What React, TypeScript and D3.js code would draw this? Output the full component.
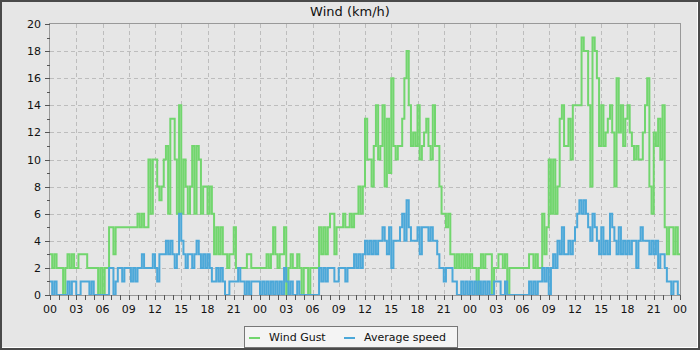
import React from 'react';
import * as d3 from 'd3';

const title = 'Wind (km/h)';
const seriesNames = ['Wind Gust', 'Average speed'];
const seriesColors = ['#72d66e', '#4ca8d9'];
const xTickLabels = ['00','03','06','09','12','15','18','21','00','03','06','09','12','15','18','21','00','03','06','09','12','15','18','21','00'];
const yTickValues = [0, 2, 4, 6, 8, 10, 12, 14, 16, 18, 20];
const stepsPerHour = 4;

// quarter-hour values, one row per hour
const gustDay1 = [
  3,2,3,2, 2,2,0,2, 3,2,3,2, 2,3,3,3, 3,2,2,2, 2,2,0,2,
  0,2,2,5, 5,3,5,5, 5,5,5,5, 5,5,5,5, 6,5,6,5, 5,10,6,10,
  10,8,7,8, 10,11,6,13, 13,10,6,14, 6,10,8,6, 8,11,6,11, 10,6,8,8,
  6,8,6,3, 5,3,5,3, 3,2,3,3, 5,2,2,2, 2,2,3,3, 2,2,2,2,
];
const gustDay2 = [
  2,2,2,3, 2,3,5,3, 2,3,3,5, 0,2,3,2, 2,3,2,0, 2,2,0,2,
  2,2,2,5, 3,5,3,5, 6,6,3,5, 5,5,6,5, 5,6,5,6, 6,8,6,8,
  13,10,10,8, 11,14,10,11, 14,8,13,9, 16,11,10,11, 11,13,16,18, 14,11,12,11,
  14,10,11,12, 13,11,10,14, 11,11,8,6, 6,5,6,3, 3,2,3,2, 3,2,3,2,
];
const gustDay3 = [
  3,2,2,0, 2,3,2,3, 3,3,0,2, 2,3,3,2, 3,0,2,2, 2,2,2,2,
  2,2,2,3, 3,2,3,2, 2,6,3,5, 10,6,10,6, 8,13,14,11, 11,13,10,14,
  14,14,14,19, 18,18,14,8, 19,18,16,11, 14,11,12,13, 14,12,8,16, 12,14,11,13,
  14,12,11,10, 11,10,10,12, 14,16,8,6, 12,11,13,10, 14,5,3,5, 5,3,5,3,
];
const avgDay1 = [
  1,0,1,0, 0,0,0,0, 1,0,1,1, 0,0,1,1, 1,1,0,1, 0,0,0,0,
  0,0,0,2, 2,0,1,2, 2,1,2,2, 2,1,2,1, 2,2,3,2, 2,2,2,3,
  2,1,3,3, 3,4,3,4, 3,2,3,6, 4,3,2,3, 3,2,3,4, 3,2,3,2,
  3,2,1,1, 2,1,2,1, 0,0,1,1, 1,1,2,1, 1,0,1,0, 1,1,1,1,
];
const avgDay2 = [
  0,1,0,1, 0,1,0,1, 0,1,0,2, 1,0,1,0, 0,1,0,0, 0,0,0,0,
  0,0,0,2, 1,2,1,2, 2,2,1,1, 2,2,2,1, 2,2,2,3, 2,3,2,3,
  4,3,4,3, 4,3,4,4, 5,4,3,5, 2,4,4,4, 5,6,4,7, 5,4,4,4,
  5,3,5,5, 5,4,5,4, 4,3,2,2, 1,2,2,2, 1,1,0,0, 1,0,1,0,
];
const avgDay3 = [
  1,0,1,0, 1,0,1,0, 1,0,0,1, 1,1,0,0, 1,0,0,0, 0,0,0,0,
  0,0,0,1, 0,1,0,1, 1,2,1,2, 0,2,3,2, 4,3,5,3, 3,4,3,4,
  5,6,7,6, 7,6,5,4, 6,5,4,3, 5,3,4,3, 6,5,4,3, 5,3,4,3,
  4,3,4,4, 2,4,5,4, 4,4,3,4, 3,4,2,3, 3,2,1,1, 0,1,1,0,
];

const gust = [...gustDay1, ...gustDay2, ...gustDay3];
const avg = [...avgDay1, ...avgDay2, ...avgDay3];

const W = 700, H = 350;
const left = 50, right = 680, top = 24, bottom = 295;
const font = 'DejaVu Sans, sans-serif';

export default function App() {
  const totalHours = 72;
  const x = d3.scaleLinear().domain([0, totalHours]).range([left, right]);
  const y = d3.scaleLinear().domain([0, 20]).range([bottom, top]);

  const toPoints = (vals: number[]) => {
    const pts = vals.map((v, i) => [i / stepsPerHour, v] as [number, number]);
    pts.push([totalHours, vals[vals.length - 1]]);
    return pts;
  };
  const line = d3.line<[number, number]>()
    .x(d => x(d[0]))
    .y(d => y(d[1]))
    .curve(d3.curveStepAfter);

  const hourTicks = d3.range(0, totalHours + 1, 1);
  const majorX = d3.range(0, totalHours + 1, 3);
  const minorY = d3.range(1, 20, 2);
  const px = (v: number) => Math.round(v) + 0.5;

  return (
    <svg width={W} height={H} style={{ position: 'absolute', left: 0, top: 0 }} fontFamily={font}>
      <rect x={0} y={0} width={W} height={H} fill="#4a4a4a" />
      <rect x={2} y={2} width={W - 4} height={H - 4} fill="#ffffff" />
      <rect x={2} y={2} width={W - 5} height={H - 5} fill="#e6e6e6" />

      <text x={350} y={16} textAnchor="middle" fontSize={13} fill="#111">{title}</text>

      {/* grid */}
      {yTickValues.slice(1, -1).map(v => (
        <line key={'gy' + v} x1={left} x2={right} y1={px(y(v))} y2={px(y(v))}
          stroke="#bdbdbd" strokeDasharray="4,3" />
      ))}
      {majorX.slice(1, -1).map(h => (
        <line key={'gx' + h} x1={px(x(h))} x2={px(x(h))} y1={top} y2={bottom}
          stroke="#bdbdbd" strokeDasharray="4,3" />
      ))}

      {/* series */}
      <path d={line(toPoints(gust)) || ''} fill="none" stroke={seriesColors[0]} strokeWidth={2} />
      <path d={line(toPoints(avg)) || ''} fill="none" stroke={seriesColors[1]} strokeWidth={2} />

      {/* frame */}
      <rect x={left - 0.5} y={top - 0.5} width={right - left + 1} height={bottom - top + 1}
        fill="none" stroke="#999999" strokeWidth={1} />

      {/* y ticks */}
      {yTickValues.map(v => (
        <g key={'yt' + v}>
          <line x1={left - 5} x2={left} y1={px(y(v))} y2={px(y(v))} stroke="#555" />
          <text x={41} y={y(v) + 4} textAnchor="end" fontSize={11} fill="#111">{v}</text>
        </g>
      ))}
      {minorY.map(v => (
        <line key={'ym' + v} x1={left - 3} x2={left} y1={px(y(v))} y2={px(y(v))} stroke="#555" />
      ))}

      {/* x ticks */}
      {hourTicks.map(h => (
        <line key={'xt' + h} x1={px(x(h))} x2={px(x(h))} y1={bottom} y2={bottom + 5} stroke="#555" />
      ))}
      {majorX.map((h, i) => (
        <text key={'xl' + h} x={x(h)} y={313} textAnchor="middle" fontSize={11} fill="#111">{xTickLabels[i]}</text>
      ))}

      {/* legend */}
      <rect x={244.5} y={326.5} width={213} height={21} fill="#f4f4f4" stroke="#777" />
      <line x1={249} x2={260} y1={338} y2={338} stroke={seriesColors[0]} strokeWidth={2} />
      <text x={269} y={341} fontSize={11} fill="#111">{seriesNames[0]}</text>
      <line x1={344} x2={355} y1={338} y2={338} stroke={seriesColors[1]} strokeWidth={2} />
      <text x={364} y={341} fontSize={11} fill="#111">{seriesNames[1]}</text>
    </svg>
  );
}
